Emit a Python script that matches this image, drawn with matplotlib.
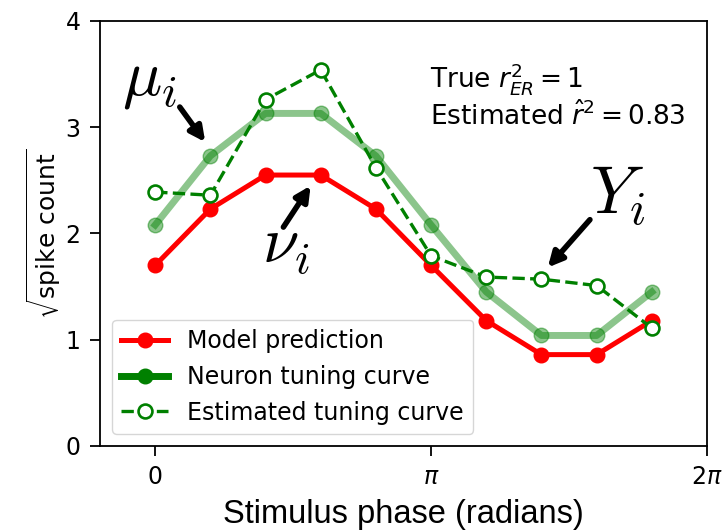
import numpy as np
import matplotlib.pyplot as plt

# stimulus phases (10 samples over one cycle)
phase = np.arange(10) * np.pi / 5

model_pred = [1.70, 2.23, 2.55, 2.55, 2.23, 1.70, 1.18, 0.86, 0.86, 1.18]
neuron_curve = [2.08, 2.73, 3.13, 3.13, 2.73, 2.08, 1.45, 1.04, 1.04, 1.45]
estimated_curve = [2.39, 2.36, 3.26, 3.54, 2.62, 1.79, 1.59, 1.57, 1.51, 1.11]

xtick_pos = [0, np.pi, 2 * np.pi]
xtick_labels = ['0', r'$\pi$', r'$2\pi$']

fig = plt.figure(figsize=(7.23, 5.31), dpi=100)
ax = fig.add_axes([0.1383, 0.1601, 0.8396, 0.8004])

ax.plot(phase, model_pred, '-o', color='red', lw=3.6, ms=10.5, label='Model prediction')
ax.plot(phase, neuron_curve, '-o', color='green', lw=5, ms=10.5, alpha=0.45,
        label='Neuron tuning curve')
ax.plot(phase, estimated_curve, '--o', color='green', lw=2.4, ms=10, mfc='white',
        mew=1.9, label='Estimated tuning curve')

ax.set_xlim(-np.pi / 5, 2 * np.pi)
ax.set_ylim(0, 4)
ax.set_xticks(xtick_pos)
ax.set_xticklabels(xtick_labels)
ax.set_yticks([0, 1, 2, 3, 4])
ax.tick_params(labelsize=17, length=7, width=1.3, pad=7)
for s in ax.spines.values():
    s.set_linewidth(1.3)

ax.set_xlabel('Stimulus phase (radians)', fontsize=23.5, family='Liberation Sans',
              labelpad=7)
ax.set_ylabel(r'$\sqrt{\mathrm{spike\ count}}$', fontsize=18, labelpad=2)

# legend, with the light green entry shown fully opaque like the original
leg = ax.legend(loc='lower left', fontsize=17, handlelength=2.0)
leg.legend_handles[1].set_alpha(1)

ax.text(3.13, 3.37, r'True $r^2_{ER} = 1$', fontsize=19)
ax.text(3.13, 3.02, r'Estimated $\hat{r}^2 = 0.83$', fontsize=19)

# symbols and arrows
arrow = dict(arrowstyle='-|>', color='black', lw=4, mutation_scale=22,
             shrinkA=0, shrinkB=0)
ax.text(-0.38, 3.31, r'$\mu_i$', fontsize=47, math_fontfamily='cm')
ax.annotate('', xy=(0.57, 2.86), xytext=(0.28, 3.19), arrowprops=arrow)
ax.text(1.22, 1.72, r'$\nu_i$', fontsize=47, math_fontfamily='cm')
ax.annotate('', xy=(1.77, 2.45), xytext=(1.46, 2.06), arrowprops=arrow)
ax.text(4.95, 2.19, r'$Y_i$', fontsize=49, math_fontfamily='cm')
ax.annotate('', xy=(4.47, 1.68), xytext=(4.95, 2.13), arrowprops=arrow)

fig.savefig('out.png', dpi=100)
